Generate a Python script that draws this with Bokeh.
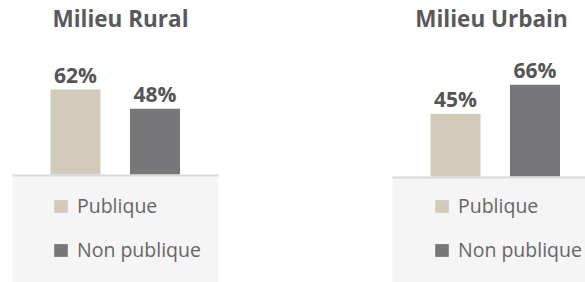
from bokeh.plotting import figure
from bokeh.models import Range1d, BoxAnnotation, Label, Legend, LegendItem, ColumnDataSource
from bokeh.layouts import row
from bokeh.embed import file_html
from bokeh.resources import INLINE
from bokeh.core.properties import value

milieux = ["Milieu Rural", "Milieu Urbain"]
secteurs = ["Publique", "Non publique"]
rural = [62, 48]
urbain = [45, 66]
couleurs = ["#d3cbb9", "#77777a"]

FONT = "Open Sans"
H = 282


def make(title, vals, width, x0px, ppu, y0px, ppy, panel_left_px, panel_right_px,
         leg_x, leg_y, title_x):
    p = figure(width=width, height=H, output_backend="svg", toolbar_location=None,
               x_axis_location=None, y_axis_location=None, min_border=0,
               x_range=Range1d(-x0px / ppu, (width - x0px) / ppu),
               y_range=Range1d(-(H - y0px) / ppy, y0px / ppy))
    p.outline_line_color = None
    p.grid.visible = False
    p.background_fill_color = "white"
    p.border_fill_color = "white"

    left = (panel_left_px - x0px) / ppu
    right = None if panel_right_px is None else (panel_right_px - x0px) / ppu
    p.add_layout(BoxAnnotation(top=0, left=left, right=right, fill_color="#f5f5f5",
                               fill_alpha=1, line_alpha=0, level="underlay"))

    src = ColumnDataSource(dict(x=list(range(len(secteurs))), v=vals, c=couleurs,
                                lab=[f"{v}%" for v in vals], s=secteurs))
    r = p.vbar(x="x", top="v", bottom=0, width=50 / ppu, fill_color="c", line_color=None,
               source=src)
    p.add_layout(BoxAnnotation(top=0, bottom=-2 / ppy, left=left, right=right,
                               fill_color="#dadada", fill_alpha=1, line_alpha=0))
    p.text(x="x", y="v", text="lab", source=src, text_align="center",
           text_baseline="alphabetic", y_offset=-15, text_font=value(FONT),
           text_font_style="bold", text_font_size="21px", text_color="#555555")

    p.add_layout(Label(x=title_x, y=H - 18, x_units="screen", y_units="screen",
                       text=title, text_align="center", text_baseline="alphabetic",
                       text_font=FONT, text_font_style="bold", text_font_size="22.5px",
                       text_color="#58595b"))

    items = [LegendItem(label=s, renderers=[r], index=i) for i, s in enumerate(secteurs)]
    leg = Legend(items=items, location=(leg_x, leg_y), orientation="vertical",
                 glyph_width=17, glyph_height=16, label_height=16,
                 label_text_font=FONT, label_text_font_size="19.5px",
                 label_text_color="#666666", label_standoff=8, spacing=17,
                 padding=0, margin=0, border_line_alpha=0, background_fill_alpha=0)
    p.add_layout(leg)
    return p


p1 = make(milieux[0], rural, 296, 75, 79.5, 174, 1.37, 12, 218, 52, 19, 120)
p2 = make(milieux[1], urbain, 289, 159, 79.5, 176, 1.39, 96, None, 137, 19, 195)

layout = row(p1, p2)
open("out.html", "w").write(file_html(layout, INLINE))
